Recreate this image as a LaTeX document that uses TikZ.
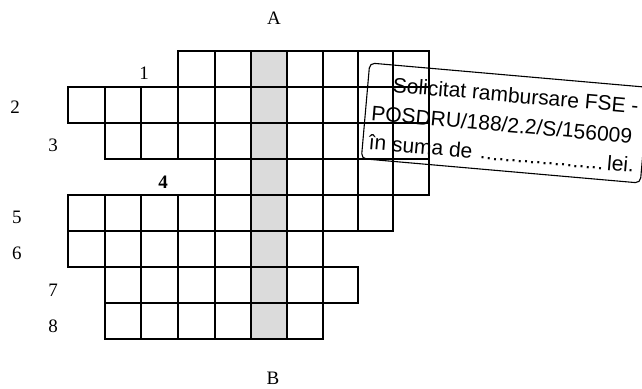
\documentclass[tikz,border=0pt]{standalone}
\usepackage{fontspec}
\setmainfont{Liberation Serif}
\newfontfamily\stampfont{Liberation Sans}
\newcommand\stampdots{\leaders\hbox to 6.2pt{\hss.\hss}\hfill}
\begin{document}
\begin{tikzpicture}[x=1pt,y=-1pt,
  cell/.style={draw=black,line width=1.3pt},
  lbl/.style={inner sep=0pt,font=\fontsize{19}{19}\selectfont},
  stamptxt/.style={inner sep=0pt,anchor=base west,font=\stampfont\fontsize{21}{21}\selectfont}]
\useasboundingbox (0,0) rectangle (642,388);
\def\xs{{68,105,141,178,215,251,287,323,358,393,429}}
% shaded solution column
\fill[gray!28] (251,51) rectangle (287,339);
% grid rows: row / first column / end column
\foreach \r/\a/\b in {1/3/10, 2/0/10, 3/1/10, 4/4/10, 5/0/9, 6/0/7, 7/1/8, 8/1/7} {
  \pgfmathsetmacro\ytop{51+36*(\r-1)}
  \pgfmathsetmacro\ybot{\ytop+36}
  \pgfmathtruncatemacro\bm{\b-1}
  \foreach \c in {\a,...,\bm} {
    \pgfmathsetmacro\xl{\xs[\c]}
    \pgfmathsetmacro\xr{\xs[\c+1]}
    \draw[cell] (\xl,\ytop) rectangle (\xr,\ybot);
  }
}
% labels
\node[lbl] (A) at (274,18) {A};
\node[lbl] (B) at (273,378) {B};
\node[lbl] (n1) at (144,73) {1};
\node[lbl] (n2) at (15,107) {2};
\node[lbl] (n3) at (53,145) {3};
\node[lbl,font=\fontsize{19}{19}\selectfont\bfseries] (n4) at (163,182) {4};
\node[lbl] (n5) at (17,217) {5};
\node[lbl] (n6) at (17,253) {6};
\node[lbl] (n7) at (53,290) {7};
\node[lbl] (n8) at (53,326) {8};
% stamp
\begin{scope}[shift={(505,123)},rotate=-5,transform shape]
  \draw[line width=1.1pt,rounded corners=5pt] (-140,-48) rectangle (140,48);
  \node[stamptxt] (s1) at (-115,-21) {Solicitat rambursare FSE -};
  \node[stamptxt] (s2) at (-134,9) {POSDRU/188/2.2/S/156009};
  \node[stamptxt] (s3) at (-134,38) {\hbox to 266pt{în suma de\hspace{6pt}\stampdots\hspace{2pt}lei.}};
\end{scope}
\end{tikzpicture}
\end{document}
